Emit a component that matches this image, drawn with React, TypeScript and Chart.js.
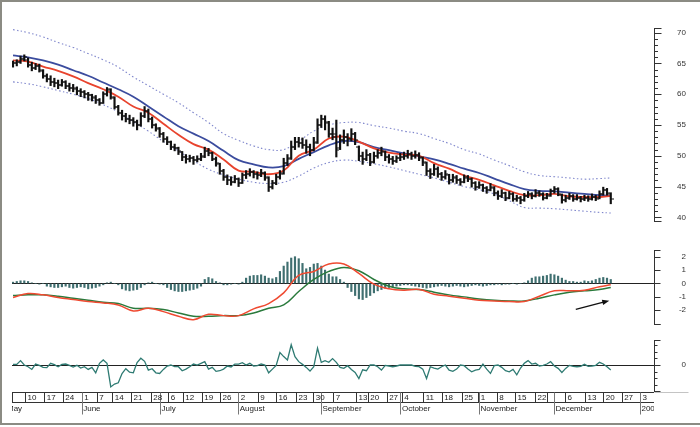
import { useEffect, useRef } from 'react';
import { Chart, registerables } from 'chart.js';
Chart.register(...registerables);

const FONT = '"Liberation Sans", Arial, sans-serif';
const X_MIN = -0.27;
const X_MAX = 170.5;

// ---- price bars (one per trading day, index 0..159) ----
const opens = [
  64.8,65.0,65.3,65.8,65.6,64.8,64.3,64.6,63.8,63.0,
  62.5,62.0,61.8,61.5,62.0,61.4,61.0,60.9,60.5,60.3,
  60.0,59.8,59.4,59.0,58.6,60.0,60.7,59.4,58.0,57.0,
  56.4,56.0,55.8,55.5,55.0,56.5,57.3,56.0,55.0,54.4,
  53.5,52.8,52.2,51.5,51.2,50.6,49.8,49.5,49.6,49.3,
  49.5,49.9,50.8,50.4,49.5,48.6,47.5,46.5,46.0,45.8,
  46.2,45.6,46.8,47.0,47.3,47.0,46.8,47.2,46.4,45.0,
  45.5,46.5,47.2,48.8,49.6,51.5,52.2,52.0,51.8,51.5,
  51.0,52.2,55.0,56.0,55.3,53.5,53.5,51.2,52.5,53.0,
  52.8,53.5,51.4,50.0,49.5,50.2,49.0,50.0,50.5,50.6,
  49.8,49.5,49.2,49.6,49.8,50.0,50.3,50.0,50.2,49.6,
  48.8,47.5,47.0,47.8,47.0,46.5,46.8,46.0,46.4,46.0,
  45.8,46.4,46.2,45.5,45.0,45.2,44.8,44.5,44.8,44.0,
  43.5,43.9,43.2,43.8,43.0,43.1,42.8,43.5,43.8,43.5,
  44.0,43.8,43.2,43.6,44.2,44.6,43.6,42.8,43.2,43.5,
  43.0,43.2,42.9,43.2,43.0,43.3,43.2,43.8,44.4,43.8,
];
const highs = [
  65.4,65.6,66.2,66.4,65.9,65.2,65.0,64.9,64.0,63.3,
  63.0,62.6,62.3,62.4,62.2,61.8,61.6,61.2,60.9,60.6,
  60.3,60.0,59.8,59.3,60.4,61.1,60.9,59.6,58.2,57.4,
  56.9,56.6,56.2,55.8,57.0,58.0,57.6,56.3,55.2,54.6,
  53.8,53.1,52.4,51.9,51.4,50.7,50.2,50.1,49.9,50.0,
  50.4,51.4,51.2,50.6,49.8,48.8,47.8,46.9,46.6,46.8,
  46.4,47.2,47.6,47.9,47.6,47.4,47.8,47.4,46.6,46.0,
  47.0,47.6,49.6,50.2,52.4,53.0,53.0,52.9,52.6,51.9,
  53.0,56.0,56.6,56.5,55.6,54.5,55.8,53.4,54.2,53.6,
  54.4,53.8,51.6,50.6,51.0,50.4,50.6,51.0,51.4,50.8,
  50.2,49.9,50.0,50.4,50.6,50.9,50.6,50.8,50.5,49.8,
  49.0,47.9,48.6,48.2,47.3,47.6,47.0,47.0,46.8,46.3,
  46.9,46.8,46.4,45.8,45.8,45.4,45.0,45.5,45.0,44.3,
  44.5,44.1,44.2,44.0,43.6,43.4,43.9,44.2,44.0,44.5,
  44.3,44.0,43.9,44.6,45.0,44.8,43.8,43.6,43.9,43.7,
  43.7,43.4,43.6,43.5,43.8,43.6,44.3,44.9,44.7,44.0,
];
const lows = [
  64.4,64.6,65.0,65.4,64.4,63.8,64.0,63.6,62.6,62.0,
  61.4,61.2,60.9,61.3,60.9,60.5,60.4,59.9,59.6,59.4,
  59.0,58.9,58.5,58.2,58.5,59.7,59.2,57.6,56.6,55.8,
  55.5,55.2,54.8,54.2,54.8,56.2,55.5,54.5,54.0,53.0,
  52.2,51.8,51.0,50.8,50.2,49.2,48.8,49.0,48.6,49.0,
  49.2,49.7,50.0,49.2,48.3,47.0,46.0,45.3,45.2,45.6,
  45.0,45.5,46.3,46.7,46.4,46.2,46.6,46.0,44.2,44.6,
  45.3,46.2,47.0,48.4,49.4,51.0,51.4,51.2,50.4,50.0,
  50.8,52.0,54.6,54.2,53.0,52.6,49.8,51.0,52.0,51.6,
  52.4,51.8,49.2,48.6,49.2,48.4,48.8,49.6,50.0,49.2,
  48.8,48.6,48.9,49.2,49.4,49.6,49.4,49.6,49.2,48.4,
  46.8,46.3,46.8,46.5,46.0,46.2,45.4,45.7,45.5,45.2,
  45.6,45.8,44.9,44.4,44.7,44.2,43.9,44.3,43.5,42.9,
  43.2,42.7,43.0,42.6,42.6,42.2,42.6,43.2,43.0,43.3,
  43.4,42.8,43.0,43.4,43.9,43.5,42.3,42.5,42.9,42.6,
  42.8,42.5,42.7,42.6,42.8,42.7,43.0,43.6,43.6,42.2,
];
const closes = [
  65.0,65.2,65.8,66.0,64.8,64.3,64.6,64.0,63.0,62.5,
  62.0,61.8,61.5,62.0,61.4,61.0,61.0,60.5,60.3,60.0,
  59.8,59.5,59.0,58.5,60.0,60.8,59.5,58.0,57.0,56.5,
  56.0,55.8,55.5,55.0,56.5,57.3,56.0,55.0,54.5,53.5,
  52.8,52.3,51.5,51.2,50.8,49.8,49.5,49.6,49.3,49.5,
  49.8,50.8,50.5,49.5,48.8,47.5,46.5,46.0,45.8,46.2,
  45.5,46.8,47.0,47.3,47.0,46.8,47.2,46.5,45.0,45.5,
  46.5,47.0,48.8,49.5,51.5,52.2,52.0,51.8,51.5,51.0,
  52.0,55.0,56.0,55.5,53.5,53.0,51.0,52.5,53.0,52.8,
  53.5,52.5,50.0,49.5,50.2,49.0,50.0,50.5,50.8,49.8,
  49.5,49.2,49.6,49.8,50.0,50.3,50.0,50.2,49.8,49.0,
  47.5,47.0,47.8,47.0,46.5,47.0,46.0,46.5,46.0,45.8,
  46.5,46.2,45.5,45.0,45.2,44.8,44.5,45.0,44.0,43.5,
  44.0,43.2,43.8,43.0,43.2,42.8,43.5,43.8,43.5,44.0,
  43.8,43.2,43.5,44.2,44.6,43.8,42.8,43.2,43.5,43.0,
  43.2,42.9,43.2,43.0,43.3,43.0,43.8,44.4,44.0,43.0,
];

// ---- smoothed lines, sampled at these day indices ----
const lineIndex = [0,4,8,12,16,20,24,28,32,36,40,44,48,52,56,60,64,68,72,76,80,84,88,92,96,100,104,108,112,116,120,124,128,132,136,140,144,148,152,156,159];
const avgBlue = [66.3,66.0,65.5,64.8,63.9,63.0,61.9,60.8,59.6,58.0,56.4,54.8,53.6,52.4,50.8,49.3,48.6,48.1,48.3,49.5,50.6,51.7,52.4,52.2,51.4,50.9,50.4,49.9,49.4,48.7,47.9,47.2,46.3,45.4,44.6,44.3,44.2,44.0,43.8,43.6,43.5];
const avgRed = [65.5,65.3,64.5,63.8,62.9,61.8,60.8,59.6,58.0,57.0,55.2,53.4,51.9,51.0,49.4,47.6,47.4,47.0,47.6,50.0,51.0,52.8,53.1,52.3,51.2,50.5,50.2,50.0,48.8,47.9,46.8,46.1,45.2,44.3,43.6,43.6,43.8,43.4,43.3,43.3,43.5];
const bandUpper = [70.5,70.0,69.3,68.4,67.6,66.6,65.6,64.4,62.8,61.4,60.0,58.6,57.0,55.4,53.6,52.5,51.6,51.0,51.0,52.4,54.0,55.0,55.4,55.4,54.9,54.5,54.0,53.6,52.8,52.0,51.0,50.3,49.3,48.4,47.4,46.8,46.6,46.4,46.2,46.3,46.4];
const bandLower = [62.0,61.7,61.2,60.6,60.0,59.3,58.3,57.1,55.5,54.0,52.3,50.8,49.2,47.8,46.9,46.2,45.7,45.5,45.7,46.7,48.0,48.9,49.3,49.1,48.7,48.2,47.6,47.0,46.4,45.7,45.0,44.5,43.8,42.7,41.6,41.5,41.4,41.2,41.0,40.8,40.7];
const macdLine = [-1.05,-0.75,-0.85,-1.05,-1.2,-1.35,-1.45,-1.6,-2.05,-1.85,-2.1,-2.45,-2.7,-2.3,-2.4,-2.4,-1.9,-1.5,-0.7,0.6,0.9,1.45,1.45,0.75,-0.05,-0.4,-0.5,-0.45,-0.8,-0.95,-1.1,-1.25,-1.3,-1.35,-1.35,-0.95,-0.55,-0.55,-0.5,-0.25,-0.1];
const signalLine = [-0.9,-0.85,-0.85,-0.95,-1.1,-1.25,-1.4,-1.5,-1.85,-1.85,-1.95,-2.2,-2.45,-2.45,-2.4,-2.4,-2.2,-1.85,-1.6,-0.6,0.3,0.9,1.2,0.95,0.3,-0.2,-0.4,-0.45,-0.65,-0.85,-1.0,-1.15,-1.25,-1.3,-1.3,-1.1,-0.85,-0.65,-0.55,-0.45,-0.3];

// ---- histogram and momentum, one per day ----
const macdHist = [
  0.1,0.15,0.2,0.2,0.15,0.05,0,-0.05,0,
  -0.2,-0.25,-0.3,-0.3,-0.25,-0.2,-0.3,-0.35,-0.3,-0.25,-0.3,-0.4,-0.35,-0.3,-0.2,-0.1,
  0.05,0.1,0,-0.1,
  -0.4,-0.5,-0.55,-0.5,-0.45,-0.3,-0.1,
  0.05,0.1,0,-0.05,-0.1,
  -0.3,-0.45,-0.55,-0.6,-0.6,-0.55,-0.5,-0.45,-0.35,-0.2,
  0.3,0.45,0.35,0.15,0.05,
  -0.1,-0.1,-0.05,0,-0.05,0.1,
  0.4,0.55,0.6,0.6,0.65,0.55,0.4,0.35,0.45,
  0.9,1.3,1.6,1.9,2.0,1.85,
  1.5,1.1,1.2,1.45,1.5,1.3,1.0,0.7,0.5,
  0.5,0.3,0.1,
  -0.3,-0.6,-0.9,-1.15,-1.2,-1.05,-0.9,-0.7,-0.55,-0.45,-0.35,-0.3,
  -0.25,-0.2,-0.15,-0.1,-0.1,-0.15,-0.2,-0.25,-0.3,-0.35,-0.3,-0.25,-0.2,-0.15,-0.2,-0.25,-0.2,-0.15,
  -0.2,-0.25,-0.2,-0.15,-0.1,-0.15,-0.2,-0.15,-0.1,-0.1,-0.05,-0.1,-0.05,-0.05,0,-0.05,0,0.05,
  0.2,0.4,0.5,0.5,0.55,0.6,0.7,0.65,0.55,0.4,0.25,0.15,0.15,0.1,0.1,0.2,0.15,0.2,0.3,0.4,0.45,0.4,0.3,
];
const momentum = [
  0.1,0.1,0.67,0,-0.26,-0.67,0.15,-0.05,-0.36,-0.4,
  0.26,0.05,-0.26,0.1,0.15,-0.05,-0.3,-0.05,-0.46,-0.26,
  -0.67,-0.36,-1.18,0.26,0.77,0.26,-3.33,-2.9,-2.7,-1.3,
  -0.56,-1.1,-1.18,0.36,1.03,0.56,-0.77,-0.56,-1.18,-1.28,
  -0.67,-0.15,0,-0.26,-0.26,-0.87,-0.62,-0.26,0.15,0,
  0.26,0.51,-0.62,-0.36,-0.97,-0.87,-0.62,-0.15,-0.3,0.15,
  0.15,0.36,0,0.26,-0.15,-0.1,0.15,0,-1.18,-0.62,
  -0.05,1.9,1.28,0.77,3.08,1.28,0.51,0.1,-0.36,-0.92,
  -0.26,2.56,0.41,0.67,0.41,0.97,0.41,-0.36,-0.5,-0.1,
  -0.67,-1.13,-2.05,-0.72,-0.87,0,0,-0.26,-0.77,-0.05,
  -0.15,-0.26,-0.15,0,0,0,0,-0.2,-0.26,-0.62,
  -2.05,-0.26,-0.46,-0.62,-0.26,0,-0.77,-0.97,-0.62,0,
  -0.1,-0.62,-1.03,-0.77,-0.67,0.15,-0.62,-1.28,-0.1,0,
  -0.36,-0.87,-1.03,-0.67,-1.49,-0.46,0.26,0.67,0.15,0.26,
  -0.15,-0.05,0.15,0.51,-0.15,-0.51,-1.13,-0.51,-0.05,-0.2,
  -0.26,-0.2,0.1,-0.2,-0.15,-0.05,0.41,0.15,-0.26,-0.77,
];

// ---- axis labels ----
const priceTicks = [40, 45, 50, 55, 60, 65, 70];
const macdTicks = [-2, -1, 0, 1, 2];
const momTicks = [0];
const dayLabels = ['10','17','24','1','7','14','21','28','6','12','19','26','2','9','16','23','30','7','13','20','27','4','11','18','25','1','8','15','22','','6','13','20','27','3'];
const dayPos = [3.19,8.32,13.22,18.27,22.26,26.41,31.38,36.62,41.3,45.13,50.19,55.05,59.92,65.08,69.95,75.27,79.87,85.19,91.22,94.34,99.39,103.38,109.12,114.01,119.33,123.75,128.64,133.51,138.83,141.94,146.81,152.13,157.0,161.89,166.76];
const monthLabels = ['May','June','July','August','September','October','November','December','2002'];
const monthPos = [-2.0,18.27,39.1,59.92,81.91,103.06,123.94,143.88,166.76];
const arrowStart = { x: 149.7, y: -1.93 };
const arrowEnd = { x: 158.6, y: -1.28 };

const AXIS_W = 32;
const PAD_RIGHT = 14;

function yScale(min: number, max: number, tickVals: number[], zeroLine: boolean) {
  return {
    position: 'right',
    min,
    max,
    afterFit: (s: any) => { s.width = AXIS_W; },
    afterBuildTicks: (s: any) => { s.ticks = tickVals.map((v) => ({ value: v })); },
    grid: {
      display: true,
      drawTicks: false,
      drawOnChartArea: true,
      lineWidth: 1,
      color: (c: any) => (zeroLine && c.tick && c.tick.value === 0 ? '#222' : 'rgba(0,0,0,0)'),
    },
    border: { display: false },
    ticks: {
      padding: 0,
      crossAlign: 'far',
      autoSkip: false,
      color: '#333',
      font: { family: FONT, size: 8 },
      callback: (v: any) => String(v),
    },
  };
}

function xScale() {
  return { type: 'linear', min: X_MIN, max: X_MAX, display: false, offset: false };
}

function axisMarks(minor: number[], major: number[], minorLen: number, majorLen: number) {
  return {
    id: 'axisMarks',
    afterDraw(chart: any) {
      const { ctx, chartArea } = chart;
      const ys = chart.scales.y;
      const x = Math.round(chartArea.right) + 0.5;
      ctx.save();
      ctx.strokeStyle = '#333';
      ctx.lineWidth = 1;
      ctx.beginPath();
      ctx.moveTo(x, chartArea.top);
      ctx.lineTo(x, chartArea.bottom);
      const tick = (v: number, len: number) => {
        const y = Math.round(ys.getPixelForValue(v)) + 0.5;
        ctx.moveTo(x, y);
        ctx.lineTo(x + len, y);
      };
      minor.forEach((v) => tick(v, minorLen));
      major.forEach((v) => tick(v, majorLen));
      const t = Math.round(chartArea.top) + 0.5;
      const b = Math.round(chartArea.bottom) - 0.5;
      ctx.moveTo(x, t); ctx.lineTo(x + majorLen, t);
      ctx.moveTo(x, b); ctx.lineTo(x + majorLen, b);
      ctx.stroke();
      ctx.restore();
    },
  };
}

function tickImage(side: 'left' | 'right') {
  const c = document.createElement('canvas');
  c.width = 6;
  c.height = 2;
  const g = c.getContext('2d')!;
  g.fillStyle = '#111';
  g.fillRect(side === 'left' ? 0 : 3, 0.5, 3, 1);
  return c;
}

const baseOptions = (padding: any) => ({
  responsive: false,
  animation: false,
  events: [],
  layout: { padding },
  plugins: { legend: { display: false }, tooltip: { enabled: false } },
});

const sampled = (vals: number[]) => lineIndex.map((xi, k) => ({ x: xi, y: vals[k] }));
const daily = (vals: number[]) => vals.map((v, i) => ({ x: i, y: v }));

function makePrice(canvas: HTMLCanvasElement) {
  const minor: number[] = [];
  for (let v = 40; v <= 70; v++) if (v % 5 !== 0) minor.push(v);
  return new Chart(canvas, {
    type: 'line',
    data: {
      datasets: [
        { type: 'scatter', data: daily(opens), pointStyle: tickImage('left'), pointRadius: 3, order: 0 },
        { type: 'scatter', data: daily(closes), pointStyle: tickImage('right'), pointRadius: 3, order: 0 },
        {
          type: 'bar',
          data: highs.map((h, i) => ({ x: i, y: [lows[i], h] })),
          backgroundColor: '#111',
          borderWidth: 0,
          barThickness: 1.5,
          order: 1,
        },
        { type: 'line', data: sampled(avgRed), borderColor: '#e8432d', borderWidth: 1.8, pointRadius: 0, tension: 0.4, order: 2 },
        { type: 'line', data: sampled(avgBlue), borderColor: '#3b4c9e', borderWidth: 1.8, pointRadius: 0, tension: 0.4, order: 3 },
        { type: 'line', data: sampled(bandUpper), borderColor: '#7f86cc', borderWidth: 1.1, borderDash: [1.5, 2.4], pointRadius: 0, tension: 0.4, order: 4 },
        { type: 'line', data: sampled(bandLower), borderColor: '#7f86cc', borderWidth: 1.1, borderDash: [1.5, 2.4], pointRadius: 0, tension: 0.4, order: 4 },
      ],
    },
    options: {
      ...baseOptions({ left: 12, right: PAD_RIGHT, top: 28, bottom: 18 }),
      scales: { x: xScale(), y: yScale(39.24, 70.76, priceTicks, false) },
    },
    plugins: [axisMarks(minor, priceTicks, 3.5, 7)],
  } as any);
}

function makeMacd(canvas: HTMLCanvasElement) {
  const arrow = {
    id: 'arrow',
    afterDatasetsDraw(chart: any) {
      const { ctx } = chart;
      const xs = chart.scales.x;
      const ys = chart.scales.y;
      const x1 = xs.getPixelForValue(arrowStart.x);
      const y1 = ys.getPixelForValue(arrowStart.y);
      const x2 = xs.getPixelForValue(arrowEnd.x);
      const y2 = ys.getPixelForValue(arrowEnd.y);
      const ang = Math.atan2(y2 - y1, x2 - x1);
      ctx.save();
      ctx.strokeStyle = '#111';
      ctx.fillStyle = '#111';
      ctx.lineWidth = 1.3;
      ctx.beginPath();
      ctx.moveTo(x1, y1);
      ctx.lineTo(x2 - 4 * Math.cos(ang), y2 - 4 * Math.sin(ang));
      ctx.stroke();
      ctx.beginPath();
      ctx.moveTo(x2, y2);
      ctx.lineTo(x2 - 7 * Math.cos(ang) + 2.6 * Math.sin(ang), y2 - 7 * Math.sin(ang) - 2.6 * Math.cos(ang));
      ctx.lineTo(x2 - 7 * Math.cos(ang) - 2.6 * Math.sin(ang), y2 - 7 * Math.sin(ang) + 2.6 * Math.cos(ang));
      ctx.closePath();
      ctx.fill();
      ctx.restore();
    },
  };
  return new Chart(canvas, {
    type: 'line',
    data: {
      datasets: [
        { type: 'line', data: sampled(macdLine), borderColor: '#ef4a31', borderWidth: 1.5, pointRadius: 0, tension: 0.4, order: 0 },
        { type: 'line', data: sampled(signalLine), borderColor: '#2a7a3c', borderWidth: 1.5, pointRadius: 0, tension: 0.4, order: 1 },
        { type: 'bar', data: daily(macdHist), backgroundColor: '#3f6f70', borderWidth: 0, barThickness: 1.5, order: 2 },
      ],
    },
    options: {
      ...baseOptions({ left: 12, right: PAD_RIGHT, top: 10, bottom: 7 }),
      scales: { x: xScale(), y: yScale(-3.1, 2.5, macdTicks, true) },
    },
    plugins: [axisMarks([], [-3, -2, -1, 0, 1, 2], 3, 6), arrow],
  } as any);
}

function makeMomentum(canvas: HTMLCanvasElement) {
  const dateAxis = {
    id: 'dateAxis',
    afterDraw(chart: any) {
      const { ctx, chartArea } = chart;
      const xs = chart.scales.x;
      const left = Math.round(chartArea.left) + 0.5;
      const right = Math.round(chartArea.right) + 0.5;
      const top = Math.round(chartArea.bottom) + 0.5;
      const mid = top + 10;
      const bot = top + 22;
      ctx.save();
      ctx.strokeStyle = '#c4c4c4';
      ctx.lineWidth = 1;
      ctx.beginPath();
      ctx.moveTo(right, top);
      ctx.lineTo(right + 34, top);
      ctx.stroke();
      ctx.beginPath();
      ctx.rect(chartArea.left, top - 1, chartArea.right - chartArea.left, 30);
      ctx.clip();
      ctx.strokeStyle = '#333';
      ctx.beginPath();
      ctx.moveTo(left - 0.5, top); ctx.lineTo(right, top);
      ctx.moveTo(left - 0.5, mid); ctx.lineTo(right, mid);
      ctx.moveTo(left, top); ctx.lineTo(left, mid);
      dayPos.forEach((p) => {
        const px = Math.round(xs.getPixelForValue(p)) + 0.5;
        ctx.moveTo(px, top); ctx.lineTo(px, mid);
      });
      ctx.stroke();
      ctx.strokeStyle = '#777';
      ctx.beginPath();
      monthPos.forEach((p) => {
        const px = Math.round(xs.getPixelForValue(p)) + 0.5;
        ctx.moveTo(px, top); ctx.lineTo(px, bot);
      });
      ctx.stroke();
      ctx.fillStyle = '#222';
      ctx.font = '8px ' + FONT;
      ctx.textAlign = 'left';
      ctx.textBaseline = 'middle';
      dayLabels.forEach((lab, k) => {
        const px = xs.getPixelForValue(dayPos[k]);
        ctx.fillText(lab, px + 2.5, top + 5.5);
      });
      monthLabels.forEach((lab, k) => {
        const px = xs.getPixelForValue(monthPos[k]);
        ctx.fillText(lab, px + 1.5, mid + 6.5);
      });
      ctx.restore();
    },
  };
  return new Chart(canvas, {
    type: 'line',
    data: {
      datasets: [
        { type: 'line', data: daily(momentum), borderColor: '#2f7b73', borderWidth: 1.3, pointRadius: 0, tension: 0 },
      ],
    },
    options: {
      ...baseOptions({ left: 12, right: PAD_RIGHT, top: 8, bottom: 35 }),
      scales: { x: xScale(), y: yScale(-4.1, 3.8, momTicks, true) },
    },
    plugins: [axisMarks([-4, -3, -2, -1, 1, 2, 3], [0], 3, 6), dateAxis],
  } as any);
}

export default function App() {
  const priceRef = useRef<HTMLCanvasElement>(null);
  const macdRef = useRef<HTMLCanvasElement>(null);
  const momRef = useRef<HTMLCanvasElement>(null);

  useEffect(() => {
    const charts = [
      makePrice(priceRef.current!),
      makeMacd(macdRef.current!),
      makeMomentum(momRef.current!),
    ];
    return () => charts.forEach((c) => c.destroy());
  }, []);

  const cv = (top: number, h: number) => ({
    position: 'absolute' as const,
    left: 0,
    top,
    width: 700,
    height: h,
    display: 'block',
  });

  return (
    <div style={{ position: 'absolute', left: 0, top: 0, width: 700, height: 427, background: '#fff', overflow: 'hidden' }}>
      <canvas ref={priceRef} width={700} height={240} style={cv(0, 240)} />
      <canvas ref={macdRef} width={700} height={92} style={cv(240, 92)} />
      <canvas ref={momRef} width={700} height={95} style={cv(332, 95)} />
      <div
        style={{
          position: 'absolute',
          left: 0,
          top: 0,
          width: 700,
          height: 425,
          boxSizing: 'border-box',
          borderLeft: '2px solid #8b8b83',
          borderTop: '2px solid #8b8b83',
          borderBottom: '2px solid #8b8b83',
          pointerEvents: 'none',
        }}
      />
    </div>
  );
}
